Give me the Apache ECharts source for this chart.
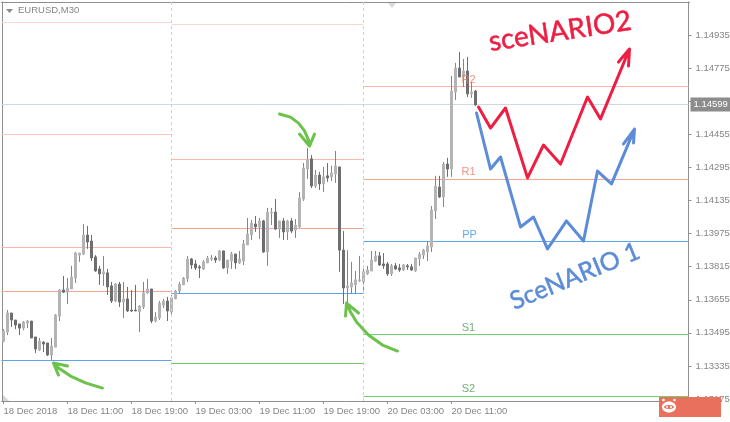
<!DOCTYPE html>
<html>
<head>
<meta charset="utf-8">
<style>html,body{margin:0;padding:0;background:#fff}#c{width:730px;height:422px}</style>
<script src="https://cdn.jsdelivr.net/npm/echarts@6/dist/echarts.min.js"></script>
</head>
<body>
<div id="c"></div>
<script>
const tickLabels = ['18 Dec 2018','18 Dec 11:00','18 Dec 19:00','19 Dec 03:00','19 Dec 11:00','19 Dec 19:00','20 Dec 03:00','20 Dec 11:00'];
const priceTicks = [1.13175,1.13335,1.13495,1.13655,1.13815,1.13975,1.14135,1.14295,1.14455,1.14615,1.14775,1.14935];
const lastPrice = 1.1459885;

const opens = [1.13455,1.13499,1.13591,1.13557,1.13538,1.13518,1.13542,1.13552,1.13475,1.13412,1.13450,1.13446,1.13388,1.13426,1.13576,1.13702,1.13692,1.13707,1.13760,1.13871,1.13876,1.13968,1.13939,1.13862,1.13804,1.13780,1.13785,1.13722,1.13649,1.13731,1.13644,1.13659,1.13605,1.13605,1.13596,1.13620,1.13688,1.13707,1.13552,1.13567,1.13629,1.13649,1.13596,1.13659,1.13697,1.13727,1.13756,1.13852,1.13828,1.13814,1.13804,1.13833,1.13852,1.13857,1.13847,1.13891,1.13809,1.13842,1.13876,1.13833,1.13842,1.13920,1.13968,1.14021,1.14007,1.14036,1.13886,1.14074,1.14079,1.13997,1.14036,1.13983,1.14036,1.13992,1.14007,1.14142,1.14287,1.14336,1.14205,1.14258,1.14215,1.14254,1.14249,1.14263,1.14297,1.13895,1.13712,1.13717,1.13727,1.13746,1.13741,1.13780,1.13794,1.13842,1.13867,1.13828,1.13828,1.13780,1.13819,1.13809,1.13799,1.13819,1.13814,1.13794,1.13852,1.13871,1.13886,1.13910,1.14084,1.14200,1.14152,1.14311,1.14287,1.14659,1.14775,1.14732,1.14761,1.14650,1.14664];
const closes = [1.13504,1.13591,1.13557,1.13533,1.13518,1.13547,1.13552,1.13470,1.13417,1.13455,1.13441,1.13388,1.13431,1.13581,1.13702,1.13692,1.13712,1.13765,1.13881,1.13881,1.13968,1.13934,1.13857,1.13794,1.13780,1.13790,1.13717,1.13649,1.13731,1.13644,1.13659,1.13601,1.13601,1.13601,1.13625,1.13688,1.13707,1.13552,1.13571,1.13639,1.13649,1.13601,1.13664,1.13697,1.13731,1.13760,1.13852,1.13823,1.13809,1.13809,1.13838,1.13857,1.13857,1.13847,1.13891,1.13809,1.13847,1.13876,1.13833,1.13852,1.13925,1.13973,1.14026,1.14007,1.14036,1.13886,1.14079,1.14079,1.13997,1.14036,1.13983,1.14036,1.13987,1.14016,1.14147,1.14292,1.14331,1.14205,1.14258,1.14215,1.14249,1.14244,1.14268,1.14302,1.13895,1.13712,1.13722,1.13736,1.13751,1.13751,1.13790,1.13799,1.13847,1.13867,1.13823,1.13819,1.13780,1.13819,1.13804,1.13799,1.13823,1.13814,1.13799,1.13857,1.13876,1.13895,1.13915,1.14089,1.14205,1.14152,1.14311,1.14287,1.14664,1.14775,1.14732,1.14761,1.14650,1.14659,1.14597];
const lows = [1.13450,1.13484,1.13523,1.13513,1.13484,1.13508,1.13518,1.13470,1.13397,1.13407,1.13402,1.13383,1.13364,1.13426,1.13552,1.13688,1.13634,1.13707,1.13736,1.13838,1.13871,1.13901,1.13842,1.13790,1.13727,1.13722,1.13678,1.13639,1.13644,1.13620,1.13567,1.13596,1.13596,1.13601,1.13499,1.13610,1.13683,1.13542,1.13547,1.13557,1.13615,1.13552,1.13581,1.13659,1.13683,1.13727,1.13741,1.13804,1.13799,1.13760,1.13799,1.13833,1.13842,1.13833,1.13842,1.13804,1.13780,1.13804,1.13804,1.13828,1.13823,1.13920,1.13944,1.13983,1.13949,1.13881,1.13819,1.14016,1.13992,1.13954,1.13944,1.13944,1.13978,1.13954,1.14002,1.14133,1.14239,1.14195,1.14195,1.14186,1.14176,1.14225,1.14229,1.14220,1.13790,1.13634,1.13634,1.13683,1.13683,1.13741,1.13702,1.13775,1.13794,1.13838,1.13819,1.13804,1.13770,1.13770,1.13799,1.13790,1.13794,1.13799,1.13794,1.13790,1.13819,1.13852,1.13842,1.13886,1.14045,1.14147,1.14103,1.14249,1.14249,1.14621,1.14732,1.14683,1.14635,1.14631,1.14592];
const highs = [1.13513,1.13605,1.13591,1.13557,1.13538,1.13552,1.13557,1.13552,1.13475,1.13470,1.13455,1.13446,1.13470,1.13586,1.13707,1.13770,1.13760,1.13819,1.13886,1.13881,1.14021,1.14012,1.13968,1.13871,1.13819,1.13867,1.13804,1.13741,1.13736,1.13741,1.13741,1.13717,1.13702,1.13727,1.13629,1.13741,1.13756,1.13707,1.13596,1.13649,1.13659,1.13669,1.13678,1.13702,1.13741,1.13765,1.13867,1.13857,1.13847,1.13823,1.13847,1.13867,1.13871,1.13867,1.13895,1.13891,1.13847,1.13886,1.13876,1.13891,1.13944,1.14050,1.14041,1.14060,1.14050,1.14041,1.14099,1.14099,1.14142,1.14036,1.14050,1.14041,1.14050,1.14045,1.14176,1.14316,1.14389,1.14355,1.14282,1.14273,1.14297,1.14316,1.14302,1.14374,1.14297,1.13987,1.13895,1.13838,1.13794,1.13867,1.13819,1.13819,1.13891,1.13891,1.13886,1.13881,1.13838,1.13828,1.13833,1.13828,1.13828,1.13828,1.13828,1.13857,1.13886,1.13901,1.13939,1.14108,1.14254,1.14254,1.14321,1.14341,1.14737,1.14800,1.14853,1.14819,1.14829,1.14708,1.14669];

const levelNames  = ['R4','R3','R2','R1','PP','R3','R2','R1','PP','S1','R2','R1','PP','S1','S2'];
const levelStarts = [-0.5,-0.5,-0.5,-0.5,-0.5,42,42,42,42,42,90,90,90,90,90];
const levelEnds   = [42,42,42,42,42,90,90,90,90,90,171.25,171.25,171.25,171.25,171.25];
const levelPrices = [1.1499524,1.1445383,1.1390759,1.1369489,1.1336134,1.1498557,1.1433298,1.1399943,1.1368522,1.1334684,1.1468586,1.1423630,1.1393659,1.1348703,1.1318732];
const levelColors = ['#ffd6cd','#ffc6ba','#f9b6a8','#f6a594','#5aa5ee','#ffd6cd','#fbb9ab','#f6a594','#5aa5ee','#72c872','#fbb4a5','#f6a594','#5aa5ee','#6ed06e','#6ed06e'];
const pivotLabels = [['R2',116.25,1.14688,'#f0785a'],['R1',116.25,1.14239,'#f0785a'],['PP',116.5,1.13939,'#3f95e6'],['S1',116.25,1.13489,'#4f9a55'],['S2',116.25,1.13190,'#4f9a55']];
const sessionBreaks = [42,90];

const redPath = [[118.75,1.14587],[121.75,1.14485],[125.5,1.14582],[131,1.14244],[135,1.14403],[139.25,1.14311],[146,1.14635],[149.25,1.14529],[156.5,1.14867],[153.75,1.14804],[156.5,1.14867],[156.25,1.14785]];
const bluePath = [[118.25,1.14558],[121.75,1.14287],[124.25,1.14345],[129.25,1.14007],[132.5,1.14055],[136,1.13901],[140.75,1.14036],[145,1.13939],[148.5,1.14277],[152,1.14215],[157.75,1.14480],[155,1.14408],[157.75,1.14480],[157.5,1.14413]];
const greenA = [[24.75,1.13228],[20.5,1.13253],[16.75,1.13286],[13.75,1.13325],[12.5,1.13349],[16,1.13335],[12.5,1.13349],[13.75,1.13291]];
const greenB = [[69,1.14553],[71.75,1.14538],[73.75,1.14509],[75.25,1.14471],[76.25,1.14427],[76.5,1.14398],[74,1.14456],[76.5,1.14398],[77.75,1.14456]];
const greenC = [[98.5,1.13407],[94.75,1.13436],[91.25,1.13485],[88.25,1.13547],[86.75,1.13596],[85.75,1.13639],[85.5,1.13576],[85.75,1.13639],[88.75,1.13591]];

const gray = '#8f8f8f', txt = '#858585', font = 'Liberation Sans';
const yMax = 1.15094332, yMin = 1.13165566;
const barCount = 172;
const categories = Array.from({length: barCount}, (_, i) => i % 16 === 0 && tickLabels[i / 16] ? tickLabels[i / 16] : '');
const showTick = (idx) => idx % 16 === 0 && idx <= 112;

const hand = (data, color, width) => ({type:'line', xAxisIndex:1, data, symbol:'none', silent:true, z:6, lineStyle:{color, width, cap:'round', join:'round'}});

const series = [
  {type:'candlestick', xAxisIndex:0, barWidth:1, z:3, silent:true,
   data: opens.map((o,i)=>[o,closes[i],lows[i],highs[i]]),
   itemStyle:{color:'#858585',color0:'#6e6e6e',borderColor:'#858585',borderColor0:'#6e6e6e',borderColorDoji:'#858585',borderWidth:1}},
  {type:'candlestick', xAxisIndex:0, barWidth:2, z:4, silent:true,
   data: opens.map((o,i)=>[o,closes[i],Math.min(o,closes[i]),Math.max(o,closes[i])]),
   itemStyle:{color:'#b4b4b4',color0:'#6e6e6e',borderColor:'#b4b4b4',borderColor0:'#6e6e6e',borderColorDoji:'#b4b4b4',borderWidth:1}},
  {type:'line', xAxisIndex:1, data:[], symbol:'none', silent:true,
   markLine:{silent:true, symbol:'none', animation:false, label:{show:false},
     lineStyle:{color:'#cfcfcf', type:[3,3], width:1},
     data: sessionBreaks.map(x=>({xAxis:x}))}},
  {type:'line', xAxisIndex:1, data:[[-0.5,lastPrice],[171.25,lastPrice]], symbol:'none', silent:true, z:2,
   lineStyle:{color:'#cfd7e2',width:1},
   endLabel:{show:true, formatter:()=>lastPrice.toFixed(5), color:'#fff', backgroundColor:'#8c8c8c', fontFamily:font, fontSize:9.5, padding:[2,4,2,3], distance:2}},
  ...levelPrices.map((p,i)=>({type:'line', xAxisIndex:1, name:levelNames[i], data:[[levelStarts[i],p],[levelEnds[i],p]], symbol:'none', silent:true, z:2,
     lineStyle:{color:levelColors[i],width:1}})),
  {type:'scatter', xAxisIndex:1, symbolSize:0, silent:true, z:7,
   data: pivotLabels.map(l=>({value:[l[1],l[2]], label:{show:true, position:'top', distance:1, formatter:l[0], color:l[3], fontFamily:font, fontSize:11}}))},
  hand(redPath,'#ee1d42',3),
  hand(bluePath,'#5c8cd8',3),
  hand(greenA,'#6cc24a',3),
  hand(greenB,'#6cc24a',3),
  hand(greenC,'#6cc24a',3),
];

const chart = echarts.init(document.getElementById('c'), null, {renderer:'canvas'});
chart.setOption({
  animation:false,
  backgroundColor:'#fff',
  grid:{left:1.5, right:40.5, top:2, bottom:21, containLabel:false, outerBoundsMode:'none'},
  xAxis:[
    {type:'category', data:categories, position:'bottom', boundaryGap:true,
     axisLine:{lineStyle:{color:gray,width:1}, onZero:false},
     axisTick:{show:true, alignWithLabel:true, interval:showTick, length:3, lineStyle:{color:gray}},
     axisLabel:{show:true, interval:showTick, align:'left', color:txt, fontFamily:font, fontSize:9.5, margin:5, hideOverlap:false},
     splitLine:{show:false}},
    {type:'value', position:'top', min:-0.5, max:171.5,
     axisLine:{show:true, lineStyle:{color:gray,width:1}, onZero:false},
     axisTick:{show:false}, axisLabel:{show:false}, splitLine:{show:false}}
  ],
  yAxis:[
    {type:'value', position:'right', offset:-1, min:yMin, max:yMax, scale:true,
     axisLine:{show:true, lineStyle:{color:gray,width:1}, onZero:false},
     axisTick:{show:true, length:3, lineStyle:{color:gray}, customValues:priceTicks},
     axisLabel:{show:true, color:txt, fontFamily:font, fontSize:9.5, margin:7, customValues:priceTicks, formatter:v=>v.toFixed(5)},
     splitLine:{show:false}},
    {type:'value', position:'left', offset:-1, min:yMin, max:yMax, scale:true,
     axisLine:{show:true, lineStyle:{color:gray,width:1}, onZero:false},
     axisTick:{show:false}, axisLabel:{show:false}, splitLine:{show:false}}
  ],
  series,
  graphic:[
    {type:'polygon', z:20, shape:{points:[[6,9],[13,9],[9.5,13]]}, style:{fill:'#8a8a8a'}},
    {type:'text', z:20, x:18, y:5, style:{text:'EURUSD,M30', fill:txt, font:'9.5px "Liberation Sans"'}},
    {type:'polygon', z:20, shape:{points:[[388,3],[396,3],[392,8]]}, style:{fill:'#d9d9d9'}},
    {type:'polygon', z:20, shape:{points:[[3,395],[3,401],[9,401]]}, style:{fill:'#d0d6e4'}},
    {type:'text', z:20, x:491, y:56, rotation:0.15, style:{text:'sceNARIO2', fill:'#ee1d42', stroke:'#ee1d42', lineWidth:0.5, font:'28px "Lato"', verticalAlign:'bottom'}},
    {type:'text', z:20, x:516, y:314, rotation:0.39, style:{text:'SceNARIO 1', fill:'#5c8cd8', stroke:'#5c8cd8', lineWidth:0.5, font:'25px "Lato"', verticalAlign:'bottom'}},
    {type:'rect', z:30, shape:{x:659,y:397,width:62,height:20}, style:{fill:'#e9705c'}},
    {type:'ellipse', z:31, shape:{cx:669,cy:407,rx:7,ry:5.5}, style:{fill:'#fff'}},
    {type:'circle', z:31, shape:{cx:663.5,cy:400,r:1.3}, style:{fill:'#fff'}},
    {type:'circle', z:31, shape:{cx:674.5,cy:400,r:1.3}, style:{fill:'#fff'}},
    {type:'ellipse', z:32, shape:{cx:669,cy:407,rx:5,ry:2}, style:{fill:'#e9705c'}},
    {type:'circle', z:33, shape:{cx:667,cy:407,r:1}, style:{fill:'#fff'}},
    {type:'circle', z:33, shape:{cx:671,cy:407,r:1}, style:{fill:'#fff'}}
  ]
});
</script>
</body>
</html>
